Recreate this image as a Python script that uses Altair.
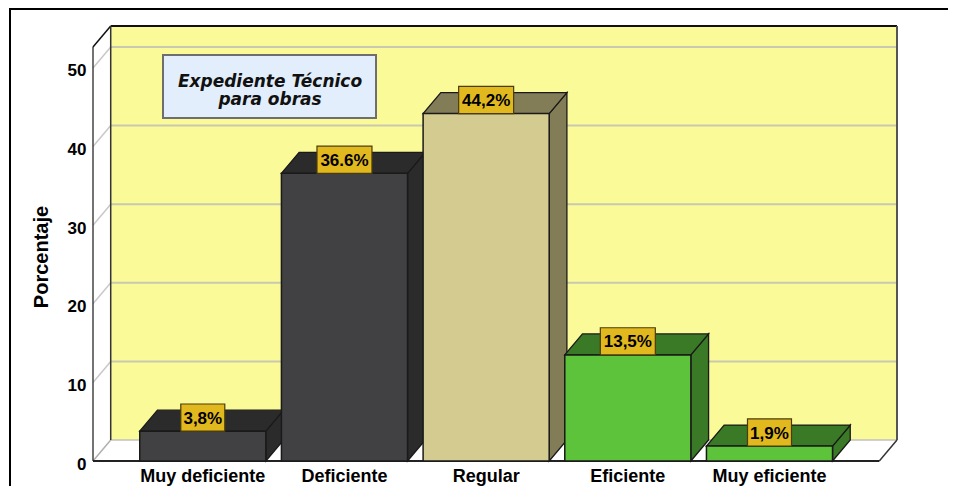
import altair as alt
import pandas as pd

# ---------------- data ----------------
categories = ["Muy deficiente", "Deficiente", "Regular", "Eficiente", "Muy eficiente"]
values = [3.8, 36.6, 44.2, 13.5, 1.9]
value_labels = ["3,8%", "36.6%", "44,2%", "13,5%", "1,9%"]
front_colors = ["#414143", "#414143", "#d3cb90", "#5dc33a", "#5dc33a"]
shade_colors = ["#2b2b2c", "#2b2b2c", "#837d57", "#3a7926", "#3a7926"]
y_ticks = [0, 10, 20, 30, 40, 50]
title_line1 = "Expediente Técnico"
title_line2 = "para obras"
y_title = "Porcentaje"

# ---------------- geometry (x in category slots, y in percent) ----------------
FIRST = 0.775      # centre of first bar
HALF = 0.445       # half bar width
DX = 0.125         # 3-D depth, x
DY = 2.67          # 3-D depth, y
XF = 5.55          # right end of front floor
XMAX = XF + DX
YMAX = 55.34
YF = YMAX - DY
PX_PER_SLOT = 804 / XMAX

xs = alt.Scale(domain=[0, XMAX], nice=False, zero=False)
ys = alt.Scale(domain=[0, YMAX], nice=False, zero=False)
yax = alt.Axis(values=y_ticks, domain=False, ticks=False, grid=False,
               labelFont="Liberation Sans", labelFontSize=17, labelFontWeight="bold",
               labelColor="black", labelPadding=7, labelOffset=3, title=None)

rows = []
for i, (cat, v) in enumerate(zip(categories, values)):
    c = FIRST + i
    lw = len(value_labels[i]) * 11 / PX_PER_SLOT
    rows.append(dict(cat=cat, c=c, x0=c - HALF, x1=c + HALF, base=0.0, v=v,
                     front=front_colors[i], shade=shade_colors[i], lab=value_labels[i],
                     lx0=c - lw / 2, lx1=c + lw / 2, vtop=v + 3.45, vmid=v + 1.72))
bars = pd.DataFrame(rows)

side_rows, top_rows = [], []
for r in rows:
    side_rows.append(dict(bar=r["cat"], x=r["x1"], lo=0.0, hi=r["v"], shade=r["shade"]))
    side_rows.append(dict(bar=r["cat"], x=r["x1"] + DX, lo=DY, hi=r["v"] + DY, shade=r["shade"]))
    top_rows.append(dict(bar=r["cat"], x=r["x0"], lo=r["v"], hi=r["v"], shade=r["shade"]))
    top_rows.append(dict(bar=r["cat"], x=r["x0"] + DX, lo=r["v"], hi=r["v"] + DY, shade=r["shade"]))
    top_rows.append(dict(bar=r["cat"], x=r["x1"], lo=r["v"], hi=r["v"] + DY, shade=r["shade"]))
    top_rows.append(dict(bar=r["cat"], x=r["x1"] + DX, lo=r["v"] + DY, hi=r["v"] + DY, shade=r["shade"]))
sides = pd.DataFrame(side_rows)
tops = pd.DataFrame(top_rows)

line_rows = []
for t in y_ticks[1:]:
    line_rows.append((DX, t + DY, XMAX, t + DY, "#c9c8b0", 2))
    line_rows.append((0, t, DX, t + DY, "#c8c8c8", 1.5))
line_rows += [
    (0, 0, DX, DY, "#b0b0b0", 1.5),
    (DX, DY, XMAX, DY, "#c0c0c0", 1.5),
    (0, 0, 0, YF, "#444444", 1.5),
    (0, YF, DX, YMAX, "#111111", 1.5),
    (DX, YMAX, XMAX, YMAX, "#111111", 2),
    (DX, DY, DX, YMAX, "#333333", 1.5),
    (XMAX, DY, XMAX, YMAX, "#555555", 2),
    (0, 0, XF, 0, "#222222", 2),
    (XF, 0, XMAX, DY, "#333333", 1.5),
]
lines = pd.DataFrame(line_rows, columns=["x", "y", "x2", "y2", "c", "w"])
wall = pd.DataFrame([dict(x=DX, x2=XMAX, y=DY, y2=YMAX)])
one = pd.DataFrame({"t1": [title_line1], "t2": [title_line2], "yt": [y_title]})

X = lambda f: alt.X(f, scale=xs, axis=None)
Y = lambda f: alt.Y(f, scale=ys, axis=yax)

back = alt.Chart(wall).mark_rect(fill="#fbfa98").encode(
    x=X("x:Q"), x2="x2:Q", y=Y("y:Q"), y2="y2:Q")

rules = alt.Chart(lines).mark_rule().encode(
    x=X("x:Q"), y=Y("y:Q"), x2="x2:Q", y2="y2:Q",
    color=alt.Color("c:N", scale=None),
    strokeWidth=alt.StrokeWidth("w:Q", scale=None))

side_layer = alt.Chart(sides).mark_area(orient="vertical", stroke="#1a1a1a", strokeWidth=1.3,
                                        fillOpacity=1).encode(
    x=X("x:Q"), y=Y("lo:Q"), y2="hi:Q", detail="bar:N",
    fill=alt.Fill("shade:N", scale=None))

top_layer = alt.Chart(tops).mark_area(orient="vertical", stroke="#1a1a1a", strokeWidth=1.3,
                                      fillOpacity=1).encode(
    x=X("x:Q"), y=Y("lo:Q"), y2="hi:Q", detail="bar:N",
    fill=alt.Fill("shade:N", scale=None))

front_layer = alt.Chart(bars).mark_rect(stroke="#1a1a1a", strokeWidth=1.5).encode(
    x=X("x0:Q"), x2="x1:Q", y=Y("base:Q"), y2="v:Q",
    fill=alt.Fill("front:N", scale=None))

lab_box = alt.Chart(bars).mark_rect(fill="#e2b81f", stroke="#4a3c0c", strokeWidth=1.2).encode(
    x=X("lx0:Q"), x2="lx1:Q", y=Y("v:Q"), y2="vtop:Q")

lab_text = alt.Chart(bars).mark_text(font="Liberation Sans", fontSize=17, fontWeight="bold",
                                     color="black", baseline="middle", dy=1).encode(
    x=X("c:Q"), y=Y("vmid:Q"), text="lab:N")

x_labels = alt.Chart(bars).mark_text(font="Liberation Sans", fontSize=18, fontWeight="bold",
                                     color="black", baseline="alphabetic").encode(
    x=X("c:Q"), y=alt.value(456), text="cat:N")

ytitle = alt.Chart(one).mark_text(font="Liberation Sans", fontSize=20, fontWeight="bold",
                                  color="black", angle=270, baseline="alphabetic").encode(
    x=alt.value(-45), y=alt.value(231), text="yt:N")

tbox = alt.Chart(one).mark_rect(fill="#e2eefb", stroke="#6e6e6e", strokeWidth=2).encode(
    x=alt.value(70), x2=alt.value(283), y=alt.value(29), y2=alt.value(92))

t1 = alt.Chart(one).mark_text(font="DejaVu Sans", fontSize=17, fontWeight="bold",
                              fontStyle="italic", color="#111111", baseline="alphabetic").encode(
    x=alt.value(177), y=alt.value(61), text="t1:N")
t2 = alt.Chart(one).mark_text(font="DejaVu Sans", fontSize=17, fontWeight="bold",
                              fontStyle="italic", color="#111111", baseline="alphabetic").encode(
    x=alt.value(177), y=alt.value(79), text="t2:N")

frame = alt.Chart(one).mark_rect(filled=False, stroke="black", strokeWidth=2).encode(
    x=alt.value(-83), x2=alt.value(1000), y=alt.value(-17), y2=alt.value(600))

chart = alt.layer(back, rules, side_layer, top_layer, front_layer, lab_box, lab_text,
                  x_labels, ytitle, tbox, t1, t2, frame).properties(
    width=804, height=435,
    autosize=alt.AutoSizeParams(type="none"),
    padding={"left": 85, "top": 18, "right": 51, "bottom": 25},
).configure_view(stroke=None)

chart.save("out.html", embed_options={"renderer": "svg", "actions": False})
